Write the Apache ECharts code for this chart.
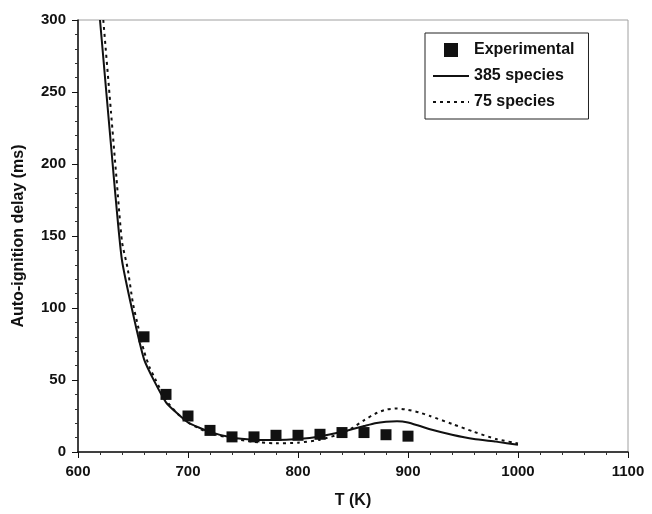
<!DOCTYPE html>
<html><head><meta charset="utf-8">
<script src="https://cdn.jsdelivr.net/npm/echarts@6/dist/echarts.min.js"></script>
<style>html,body{margin:0;padding:0;background:#fff}#c{width:652px;height:514px}</style>
</head><body><div id="c"></div>
<script>
const expT = [660, 680, 700, 720, 740, 760, 780, 800, 820, 840, 860, 880, 900];
const expDelay = [80, 40, 25, 15, 10.5, 10.5, 11.6, 11.6, 12.3, 13.5, 13.5, 12, 11];

const s385T = [620, 630, 640, 660, 680, 700, 720, 740, 760, 780, 800, 820, 840, 860, 870, 880, 890, 900, 910, 920, 940, 960, 980, 1000];
const s385Delay = [300, 213, 133, 64.5, 34.5, 20.5, 14, 10, 8.5, 8.3, 9, 10.8, 14, 18, 20, 21, 21.3, 20.5, 18.2, 15.8, 12, 9, 7.2, 5];

const s75T = [623, 630, 635, 640, 645, 650, 655, 660, 665, 670, 680, 690, 700, 720, 740, 760, 780, 800, 820, 840, 850, 860, 870, 880, 890, 900, 910, 920, 940, 960, 980, 1000];
const s75Delay = [300, 236, 190, 146, 128, 103, 86, 70, 59, 51, 36, 27, 20.5, 13, 9.5, 7, 6, 6.5, 8.5, 13, 17, 22, 26.5, 29.5, 30.2, 29.3, 27.5, 25, 19.5, 14, 9, 6];

const xTicks = [600, 700, 800, 900, 1000, 1100];
const yTicks = [0, 50, 100, 150, 200, 250, 300];

const zip = (a, b) => a.map((v, i) => [v, b[i]]);
const font = 'Liberation Sans, Arial, sans-serif';

const chart = echarts.init(document.getElementById('c'), null, {renderer: 'canvas'});
chart.setOption({
  animation: false,
  backgroundColor: '#fff',
  grid: {left: 78, right: 24, top: 20, bottom: 62, show: true, borderColor: '#a0a0a0', borderWidth: 1},
  xAxis: {
    type: 'value', min: xTicks[0], max: xTicks[xTicks.length - 1], interval: 100,
    name: 'T (K)', nameLocation: 'middle', nameGap: 41,
    nameTextStyle: {fontFamily: font, fontWeight: 'bold', fontSize: 16, color: '#111'},
    axisLine: {lineStyle: {color: '#111', width: 1.5}},
    axisTick: {show: true, length: 6, lineStyle: {color: '#111'}},
    minorTick: {show: true, splitNumber: 5, length: 3, lineStyle: {color: '#333'}},
    axisLabel: {fontFamily: font, fontWeight: 'bold', fontSize: 15, color: '#111', margin: 12,
      formatter: v => String(v)},
    splitLine: {show: false}
  },
  yAxis: {
    type: 'value', min: yTicks[0], max: yTicks[yTicks.length - 1], interval: 50,
    name: 'Auto-ignition delay (ms)', nameLocation: 'middle', nameGap: 51,
    nameTextStyle: {fontFamily: font, fontWeight: 'bold', fontSize: 16, color: '#111'},
    axisLine: {show: true, lineStyle: {color: '#111', width: 1.5}},
    axisTick: {show: true, length: 6, lineStyle: {color: '#111'}},
    minorTick: {show: true, splitNumber: 5, length: 3, lineStyle: {color: '#333'}},
    axisLabel: {fontFamily: font, fontWeight: 'bold', fontSize: 15, color: '#111', margin: 12,
      formatter: v => String(v)},
    splitLine: {show: false}
  },
  legend: {
    orient: 'vertical', left: 425, top: 33,
    padding: [9, 14, 9, 7], itemGap: 10, itemWidth: 36, itemHeight: 14,
    borderColor: '#222', borderWidth: 1, backgroundColor: '#fff',
    textStyle: {fontFamily: font, fontWeight: 'bold', fontSize: 16, color: '#111'},
    data: [
      {name: 'Experimental', icon: 'path://M0,0L10,0L10,10L0,10Z'},
      {name: '385 species', itemStyle: {opacity: 0}},
      {name: '75 species', itemStyle: {opacity: 0}}
    ]
  },
  series: [
    {
      name: '75 species', type: 'line', data: zip(s75T, s75Delay), symbol: 'none', smooth: 0.2,
      itemStyle: {color: '#111'},
      lineStyle: {color: '#111', width: 2, type: [3, 4]}, z: 2
    },
    {
      name: '385 species', type: 'line', data: zip(s385T, s385Delay), symbol: 'none', smooth: 0.15,
      itemStyle: {color: '#111'},
      lineStyle: {color: '#111', width: 2}, z: 3
    },
    {
      name: 'Experimental', type: 'scatter', data: zip(expT, expDelay), symbol: 'rect', symbolSize: 11,
      itemStyle: {color: '#111', opacity: 1}, z: 4
    }
  ]
});
</script></body></html>
